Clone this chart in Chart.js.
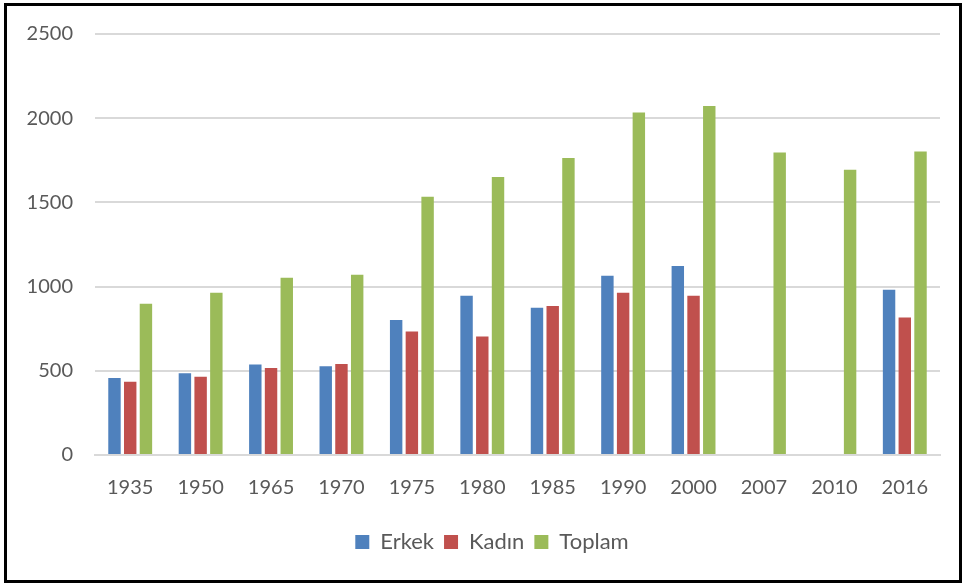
<!DOCTYPE html>
<html>
<head>
<meta charset="utf-8">
<script src="https://cdn.jsdelivr.net/npm/chart.js@4"></script>
<style>
  html, body { margin: 0; padding: 0; background: #fff; }
  #wrap { position: relative; width: 963px; height: 583px; }
  #frame { position: absolute; left: 4px; top: 3px; width: 952px; height: 574px; border: 3px solid #000; box-sizing: content-box; pointer-events: none; }
  canvas { position: absolute; left: 0; top: 0; }
</style>
</head>
<body>
<div id="wrap">
  <canvas id="chart" width="963" height="583"></canvas>
  <div id="frame"></div>
</div>
<script>
const years = ['1935', '1950', '1965', '1970', '1975', '1980', '1985', '1990', '2000', '2007', '2010', '2016'];
const erkek = [457, 486, 537, 527, 802, 945, 874, 1065, 1122, null, null, 981];
const kadin = [435, 465, 516, 541, 733, 704, 885, 963, 945, null, null, 816];
const toplam = [898, 963, 1053, 1071, 1533, 1651, 1763, 2034, 2073, 1796, 1694, 1802];
const yTicks = [0, 500, 1000, 1500, 2000, 2500];

const font = { family: 'Lato, "Open Sans", sans-serif', size: 20 };
const legendFont = { family: 'Lato, "Open Sans", sans-serif', size: 22 };
const textColor = '#595959';

const bar = (label, data, color) => ({
    label: label,
    data: data,
    backgroundColor: color,
    borderWidth: 0,
    barPercentage: 0.79,
    categoryPercentage: 0.67
});

// the legend in the picture sits a bit right of the page centre
const shiftLegend = {
    id: 'shiftLegend',
    afterLayout(chart) {
        const l = chart.legend;
        if (!l) return;
        l.left += 22;
        l.right += 22;
        if (l.adjustHitBoxes) l.adjustHitBoxes();
    }
};

const ctx = document.getElementById('chart').getContext('2d');
new Chart(ctx, {
    type: 'bar',
    data: {
        labels: years,
        datasets: [
            bar('Erkek', erkek, '#4F81BD'),
            bar('Kadın', kadin, '#C0504D'),
            bar('Toplam', toplam, '#9BBB59')
        ]
    },
    plugins: [shiftLegend],
    options: {
        responsive: false,
        animation: false,
        layout: { padding: { left: 0, right: 23, top: 32, bottom: 20 } },
        plugins: {
            tooltip: { enabled: false },
            legend: {
                position: 'bottom',
                labels: {
                    font: legendFont,
                    color: textColor,
                    boxWidth: 14,
                    boxHeight: 14,
                    padding: 10
                }
            }
        },
        scales: {
            x: {
                grid: { display: false, drawTicks: false },
                border: { display: true, color: '#d9d9d9', width: 2 },
                ticks: { font: font, color: textColor, padding: 21 },
                afterFit: s => { s.height = 66; }
            },
            y: {
                min: 0,
                max: 2500,
                afterBuildTicks: s => { s.ticks = yTicks.map(v => ({ value: v })); },
                grid: { color: '#d9d9d9', lineWidth: 2, drawTicks: false },
                border: { display: false },
                ticks: { font: font, color: textColor, padding: 22, callback: v => String(v) },
                afterFit: s => { s.width = 95; }
            }
        }
    }
});
</script>
</body>
</html>
